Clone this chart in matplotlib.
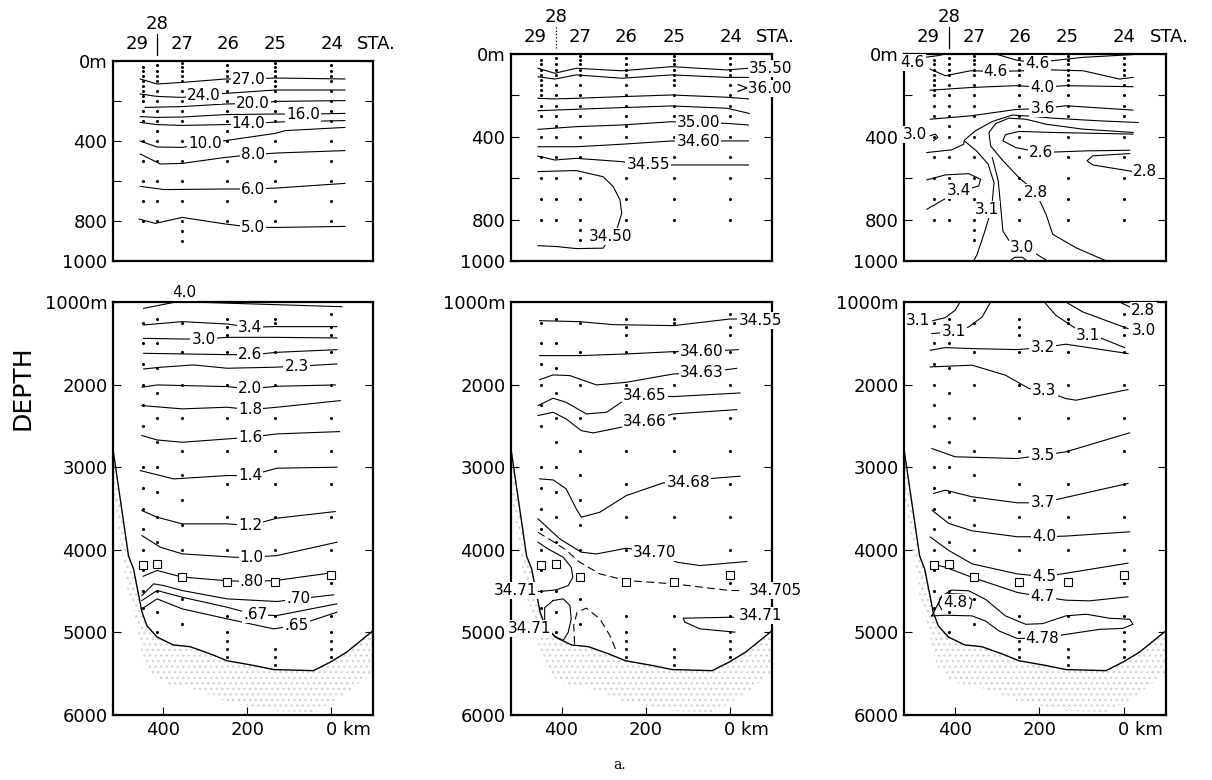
import matplotlib
matplotlib.use("Agg")
import matplotlib.pyplot as plt
import matplotlib.transforms as mtransforms

plt.rcParams["font.family"] = ["DejaVu Sans"]
plt.rcParams["hatch.linewidth"] = 1.0

# ---- stations (km from sta. 24) ----
sta_km = [448, 414, 355, 248, 133, 0]
head_names = ["29", "27", "26", "25", "24", "STA."]
head_km = [462, 355, 246, 133, -2, -108]

# sampling depths per station (29, 28, 27, 26, 25, 24)
shallow_samples = [
    [30, 50, 75, 100, 125, 150, 175, 200, 250, 300, 400, 500, 600, 700, 800, 1000],
    [20, 50, 75, 100, 150, 200, 250, 300, 350, 400, 500, 600, 700, 800, 1000],
    [10, 30, 50, 75, 100, 150, 200, 250, 300, 400, 500, 600, 700, 800, 850, 900, 1000],
    [20, 50, 75, 100, 150, 200, 250, 300, 350, 400, 500, 600, 700, 800],
    [10, 30, 50, 75, 100, 125, 150, 200, 250, 300, 400, 500, 600, 700, 800, 1000],
    [20, 50, 75, 100, 150, 200, 250, 300, 400, 500, 600, 700, 800, 1000],
]
deep_samples = [
    [1250, 1500, 1750, 2000, 2250, 2500, 3000, 3250, 3500, 3750, 4000, 4250, 4500, 4700],
    [1200, 1500, 1800, 2100, 2400, 2700, 3000, 3300, 3600, 3900, 4200, 4500, 4750, 5000],
    [1250, 1600, 2000, 2400, 2800, 3100, 3400, 3700, 4000, 4300, 4600, 4900],
    [1200, 1300, 1400, 1600, 2000, 2400, 2800, 3200, 3600, 4000, 4400, 4800, 5000, 5100, 5200, 5300],
    [1200, 1250, 1600, 2000, 2400, 2800, 3200, 3600, 4000, 4400, 4800, 5200, 5300, 5400],
    [1150, 1300, 1400, 1600, 2000, 2400, 2800, 3200, 3600, 4000, 4400, 4800, 5000, 5100, 5200, 5300],
]
square_m = [4180, 4170, 4330, 4390, 4390, 4300]

# sea floor
bottom_km = [519, 483, 471, 451, 439, 415, 376, 336, 288, 248, 185, 137, 42, 2, -37, -100]
bottom_m = [2816, 4075, 4232, 4753, 4920, 5056, 5152, 5173, 5260, 5343, 5400, 5450, 5463, 5360, 5240, 4980]

# ---- temperature 0-1000 m ----
t_up_270 = ([455, 415, 355, 252, 197, 133, -33], [90, 115, 107, 90, 90, 85, 90])
t_up_240 = ([455, 415, 355, 304, 252, 133, -33], [165, 177, 182, 172, 162, 145, 145])
t_up_200 = ([443, 355, 252, 186, 133, -33], [232, 228, 215, 212, 202, 198])
t_up_160 = ([455, 415, 355, 252, 133, 67, -33], [278, 282, 280, 268, 265, 266, 262])
t_up_140 = ([455, 415, 355, 252, 197, 133, -33], [307, 318, 322, 318, 315, 305, 298])
t_up_100 = ([455, 415, 355, 300, 252, 133, 109, -33], [400, 430, 432, 415, 398, 362, 348, 332])
t_up_80 = ([455, 407, 355, 252, 186, 129, -33], [465, 515, 512, 482, 468, 460, 448])
t_up_60 = ([455, 397, 355, 252, 186, 129, -33], [627, 643, 642, 640, 640, 635, 612])
t_up_50 = ([458, 419, 355, 252, 186, 129, -33], [790, 812, 782, 815, 832, 832, 827])
t_up_text = ["27.0", "24.0", "20.0", "16.0", "14.0", "10.0", "8.0", "6.0", "5.0"]
t_up_text_km = [197, 304, 186, 67, 197, 300, 186, 186, 186]
t_up_text_m = [90, 172, 212, 266, 315, 415, 468, 640, 832]

# ---- salinity 0-1000 m ----
s_up_3550 = ([456, 416, 365, 257, 138, 7, -44], [69, 93, 69, 81, 61, 77, 69])
s_up_b = ([456, 416, 365, 257, 138, 7, -44], [110, 121, 101, 117, 101, 113, 113])
s_up_c = ([456, 416, 365, 257, 138, 7, -44], [214, 217, 214, 206, 198, 209, 217])
s_up_d = ([456, 365, 257, 138, 7, -46], [274, 267, 259, 251, 262, 287])
s_up_3500 = ([456, 365, 257, 138, 75, 7, -44], [364, 351, 343, 327, 333, 335, 343])
s_up_3460 = ([456, 365, 257, 138, 75, 7, -44], [448, 448, 436, 420, 422, 420, 420])
s_up_3455 = ([456, 416, 365, 257, 194, 138, 7, -44], [493, 512, 504, 520, 535, 536, 536, 536])
s_up_3450 = ([456, 365, 301, 277, 261, 257, 269, 283, 301, 365, 413, 456],
             [568, 563, 593, 641, 705, 770, 850, 880, 938, 940, 930, 926])
s_up_text = ["35.00", "34.60", "34.55", "34.50"]
s_up_text_km = [75, 75, 194, 283]
s_up_text_m = [333, 422, 535, 880]
s_up_edge = ["35.50", ">36.00"]
s_up_edge_km = [-46, -12]
s_up_edge_m = [69, 166]

# ---- third property 0-1000 m ----
o_up_46a = ([470, 440, 422], [16, 8, 0])
o_up_46b = ([303, 255, 204, 168, 96, -21], [0, 29, 45, 32, 16, 3])
o_up_46c = ([458, 422, 363, 303, 255, 168, 96, 10, -22], [73, 105, 81, 84, 82, 77, 81, 121, 113])
o_up_40 = ([458, 363, 255, 192, 137, -22], [175, 162, 153, 160, 153, 158])
o_up_36 = ([458, 363, 255, 192, 137, -22], [315, 299, 268, 263, 250, 271])
o_up_x = ([466, 407, 379, 377, 351, 311, 264, 224, 168, 57, -34],
          [476, 463, 436, 416, 371, 326, 295, 300, 310, 323, 331])
o_up_31 = ([375, 347, 321, 307, 311, 319, 331, 347, 355], [423, 471, 532, 621, 710, 790, 871, 968, 1000])
o_up_30 = ([311, 297, 291, 286, 272, 240, 208, 180], [500, 613, 742, 855, 900, 936, 965, 1000])
o_up_28 = ([-22, 97, 184, 232, 272, 303, 319, 315, 287, 252, 208, 184, 168, 113, 41],
           [379, 363, 339, 315, 310, 336, 379, 444, 513, 589, 669, 774, 871, 936, 1000])
o_up_26 = ([-22, 168, 248, 280, 286, 256, 196, 89, -14], [387, 379, 374, 390, 419, 452, 476, 468, 465])
o_up_28b = ([-14, 73, 87, 73, 10, -22], [481, 492, 516, 536, 557, 568])
o_up_34 = ([466, 422, 367, 339, 343, 363, 391, 418, 466], [608, 584, 578, 605, 637, 650, 658, 694, 750])
o_up_hook = ([458, 446, 440, 450], [395, 387, 403, 419])
o_up_loop = ([270, 258, 240, 228], [1000, 982, 982, 1000])
o_up_text = ["4.6", "4.6", "4.6", "4.0", "3.6", "3.0", "2.6", "2.8", "3.4", "3.1", "2.8", "3.0"]
o_up_text_km = [499, 204, 303, 192, 192, 494, 196, -50, 391, 323, 208, 240]
o_up_text_m = [40, 45, 84, 160, 263, 387, 476, 568, 658, 750, 669, 936]

# ---- temperature 1000-6000 m ----
t_dn_40 = ([447, 375, 304, -26], [1077, 1005, 1005, 1057])
t_dn_34 = ([447, 355, 248, 193, 137, -14], [1278, 1238, 1266, 1306, 1298, 1298])
t_dn_30 = ([447, 355, 304, 248, 137, -14], [1440, 1448, 1448, 1428, 1428, 1435])
t_dn_26 = ([447, 355, 248, 193, 129, -14], [1621, 1629, 1637, 1641, 1609, 1577])
t_dn_23 = ([447, 407, 328, 248, 137, 82, -14], [1811, 1790, 1762, 1802, 1790, 1778, 1750])
t_dn_20 = ([451, 415, 248, 193, 129, -10], [2032, 2004, 2024, 2052, 2020, 2004])
t_dn_18 = ([451, 355, 248, 193, 129, -22], [2254, 2294, 2274, 2303, 2274, 2194])
t_dn_16 = ([451, 415, 355, 248, 193, 129, -20], [2617, 2670, 2698, 2658, 2637, 2597, 2569])
t_dn_14 = ([455, 375, 248, 193, 129, -14], [3041, 3142, 3101, 3101, 3012, 3000])
t_dn_12 = ([451, 415, 355, 248, 193, 129, -10], [3525, 3605, 3686, 3686, 3706, 3617, 3537])
t_dn_10 = ([451, 407, 355, 232, 189, 129, -14], [3828, 3969, 4049, 4090, 4090, 4070, 3908])
t_dn_080 = ([448, 415, 355, 248, 189, 129, -6], [4320, 4250, 4330, 4375, 4384, 4370, 4275])
t_dn_070 = ([451, 423, 399, 355, 248, 129, 78, -6], [4554, 4412, 4433, 4493, 4594, 4626, 4594, 4545])
t_dn_067 = ([451, 415, 355, 248, 181, 129, -14], [4614, 4493, 4574, 4695, 4787, 4796, 4654])
t_dn_065 = ([451, 415, 355, 248, 137, 82, -14], [4715, 4594, 4715, 4836, 4957, 4917, 4755])
t_dn_text = ["4.0", "3.4", "3.0", "2.6", "2.3", "2.0", "1.8", "1.6", "1.4", "1.2", "1.0",
             ".80", ".70", ".67", ".65"]
t_dn_text_km = [351, 193, 304, 193, 82, 193, 193, 193, 193, 193, 189, 189, 78, 181, 82]
t_dn_text_m = [883, 1306, 1448, 1641, 1778, 2052, 2303, 2637, 3101, 3706, 4090, 4384, 4594, 4787, 4917]

# ---- salinity 1000-6000 m ----
s_dn_3455 = ([452, 357, 277, 134, 0, -16], [1226, 1238, 1274, 1286, 1206, 1206])
s_dn_3460 = ([452, 357, 246, 134, 67, -20], [1649, 1649, 1629, 1601, 1601, 1577])
s_dn_3463 = ([452, 420, 380, 317, 246, 134, 67, -16], [1940, 1883, 1891, 2004, 1972, 1871, 1859, 1803])
s_dn_3465 = ([456, 420, 389, 341, 293, 258, 202, 134, -24],
             [2254, 2165, 2214, 2355, 2335, 2214, 2133, 2145, 2101])
s_dn_3466 = ([456, 420, 389, 353, 325, 258, 202, 134, -16],
             [2375, 2335, 2416, 2557, 2585, 2516, 2448, 2355, 2303])
s_dn_3468 = ([452, 420, 389, 365, 353, 309, 246, 158, 99, 39, -24],
             [3141, 3154, 3262, 3504, 3605, 3545, 3343, 3190, 3182, 3134, 3109])
s_dn_3470 = ([456, 404, 353, 317, 246, 178, 126, 71, -40],
             [3625, 3868, 4029, 4050, 3981, 4029, 4150, 4191, 4142])
s_dn_3471a = ([456, 432, 396, 377, 373, 384, 412, 452, 490],
              [3908, 3989, 4090, 4211, 4332, 4433, 4485, 4505, 4500])
s_dn_oval = ([420, 396, 380, 377, 384, 396, 418, 440, 440, 420],
             [4614, 4594, 4675, 4836, 4997, 5098, 5040, 4900, 4700, 4614])
s_dn_3471b = ([-8, 111, 107, 71, -12], [4816, 4828, 4876, 4957, 4997])
s_dn_34705 = ([456, 420, 390, 357, 309, 246, 134, 0, -32],
              [3787, 3900, 4000, 4150, 4291, 4372, 4412, 4493, 4493])
s_dn_arc = ([369, 371, 363, 341, 309, 285, 269], [5138, 4917, 4755, 4707, 4836, 5038, 5239])
s_dn_text = ["34.60", "34.63", "34.65", "34.66", "34.68", "34.70", "34.71", "34.71"]
s_dn_text_km = [67, 67, 202, 202, 99, 178, 509, 476]
s_dn_text_m = [1601, 1859, 2133, 2448, 3182, 4029, 4493, 4957]
s_dn_edge = ["34.55", "34.705", "34.71"]
s_dn_edge_km = [-20, -44, -20]
s_dn_edge_m = [1226, 4493, 4800]

# ---- third property 1000-6000 m ----
o_dn_31a = ([454, 422, 399, 387], [1229, 1189, 1100, 1000])
o_dn_31b = ([454, 403, 367, 335, 315], [1382, 1362, 1302, 1181, 1000])
o_dn_31c = ([188, 161, 113, 85, 57, -2], [1000, 1160, 1322, 1402, 1431, 1552])
o_dn_30 = ([137, 97, 33, -10], [1000, 1120, 1241, 1322])
o_dn_28 = ([10, -14], [1000, 1060])
o_dn_32 = ([458, 422, 359, 252, 192, 137, -10], [1584, 1552, 1564, 1576, 1552, 1511, 1624])
o_dn_33 = ([458, 359, 280, 224, 188, 137, 113, -10], [1786, 1765, 1886, 2048, 2076, 2169, 2189, 2060])
o_dn_35 = ([454, 399, 252, 192, 137, -14], [2774, 2874, 2895, 2854, 2814, 2584])
o_dn_37 = ([450, 422, 359, 252, 192, 137, -10], [3318, 3278, 3358, 3431, 3431, 3366, 3197])
o_dn_40 = ([454, 414, 359, 252, 188, 137, -14], [3520, 3681, 3770, 3842, 3842, 3834, 3782])
o_dn_45 = ([458, 414, 359, 252, 188, 137, -10], [3845, 4008, 4170, 4292, 4325, 4284, 4162])
o_dn_47 = ([454, 422, 359, 252, 192, 137, 81, -10], [4170, 4211, 4333, 4516, 4569, 4610, 4618, 4569])
o_dn_478 = ([454, 430, 407, 367, 327, 280, 232, 192, 137, 89, 33, -14, -22, 2, 57, 137,
             192, 252, 295, 327, 359, 422, 454],
            [4800, 4557, 4488, 4496, 4600, 4800, 4902, 4894, 4800, 4780, 4829, 4841, 4902, 4951,
             4963, 5024, 5073, 5073, 4983, 4862, 4800, 4792, 4800])
o_dn_48 = ([434, 414, 375, 359, 363, 399, 430, 438, 434], [4580, 4530, 4540, 4605, 4707, 4731, 4731, 4658, 4580])
o_dn_text = ["3.1", "3.1", "3.1", "3.2", "3.3", "3.5", "3.7", "4.0", "4.5", "4.7", "4.78", "4.8"]
o_dn_text_km = [486, 403, 85, 192, 188, 192, 192, 188, 188, 192, 192, 398]
o_dn_text_m = [1221, 1362, 1402, 1552, 2076, 2854, 3431, 3842, 4325, 4569, 5073, 4640]
o_dn_edge = ["2.8", "3.0"]
o_dn_edge_km = [-18, -18]
o_dn_edge_m = [1108, 1342]

# ---------------------------------------------------------------------
W, H = 1212, 780
fig = plt.figure(figsize=(W / 100, H / 100), dpi=100)


def add_ax(left, right, top, bottom):
    return fig.add_axes([left / W, 1 - bottom / H, (right - left) / W, (bottom - top) / H])


def style(ax, deep):
    ax.set_xlim(520, -100)
    for sp in ax.spines.values():
        sp.set_linewidth(1.6)
    ax.tick_params(direction="in", length=6, width=0.8, left=True, right=True,
                   labelsize=13, pad=4)
    if deep:
        ax.set_ylim(6000, 1000)
        ax.set_yticks([1000, 2000, 3000, 4000, 5000, 6000],
                      ["1000m", "2000", "3000", "4000", "5000", "6000"])
        ax.set_xticks([400, 200, 0], ["400", "200", ""])
        tr = mtransforms.blended_transform_factory(ax.transData, ax.transAxes)
        ax.text(13, -0.036, "0 km", transform=tr, ha="left", va="center", fontsize=13)
    else:
        ax.set_ylim(1000, 0)
        ax.set_yticks([0, 200, 400, 600, 800, 1000], ["0m", "", "400", "", "800", "1000"])
        ax.set_xticks([])


def samples(ax, deep):
    lists = deep_samples if deep else shallow_samples
    for km, ds in zip(sta_km, lists):
        ax.plot([km] * len(ds), ds, ls="none", marker="o", ms=1.2, color="k", zorder=3)
    if deep:
        ax.plot(sta_km, square_m, ls="none", marker="s", ms=6, mfc="white", mec="k",
                mew=0.8, zorder=6)
        ax.fill_between(bottom_km, bottom_m, [m + 500 for m in bottom_m], facecolor="none",
                        edgecolor="#d2d2d2", hatch="...", lw=0, zorder=1)
        ax.plot(bottom_km, bottom_m, color="k", lw=1.0, zorder=4)


def contours(ax, lines, text, tkm, tm, dashed=(), edge=(), ekm=(), em=()):
    for km, m in lines:
        ax.plot(km, m, color="k", lw=0.8, zorder=2)
    for km, m in dashed:
        ax.plot(km, m, color="k", lw=0.8, ls=(0, (7, 4)), zorder=2)
    box = dict(fc="white", ec="none", pad=0.8)
    for s, x, y in zip(text, tkm, tm):
        ax.text(x, y, s, ha="center", va="center", fontsize=11, bbox=box, zorder=5)
    for s, x, y in zip(edge, ekm, em):
        ax.text(x, y, s, ha="left", va="center", fontsize=11, bbox=box, zorder=5)


def header(ax, dotted):
    tr = mtransforms.blended_transform_factory(ax.transData, ax.transAxes)
    h = ax.get_position().height * H
    for name, km in zip(head_names, head_km):
        ax.text(km, 1 + 17 / h, name, transform=tr, ha="center", va="center", fontsize=13)
    ax.text(sta_km[1], 1 + 37 / h, "28", transform=tr, ha="center", va="center", fontsize=13)
    ax.plot([sta_km[1], sta_km[1]], [1 + 6 / h, 1 + 27 / h], transform=tr, clip_on=False,
            color="k", lw=0.9, ls=":" if dotted else "-")


cols = [(113, 373), (511, 772), (904, 1166)]
tops = [61, 54, 54]
up_axes = [add_ax(l, r, t, 261) for (l, r), t in zip(cols, tops)]
dn_axes = [add_ax(l, r, 302, 715) for (l, r) in cols]

for i, ax in enumerate(up_axes):
    style(ax, False)
    samples(ax, False)
    header(ax, i == 1)
for ax in dn_axes:
    style(ax, True)
    samples(ax, True)

contours(up_axes[0], [t_up_270, t_up_240, t_up_200, t_up_160, t_up_140, t_up_100, t_up_80,
                      t_up_60, t_up_50], t_up_text, t_up_text_km, t_up_text_m)
contours(up_axes[1], [s_up_3550, s_up_b, s_up_c, s_up_d, s_up_3500, s_up_3460, s_up_3455,
                      s_up_3450], s_up_text, s_up_text_km, s_up_text_m,
         edge=s_up_edge, ekm=s_up_edge_km, em=s_up_edge_m)
contours(up_axes[2], [o_up_46a, o_up_46b, o_up_46c, o_up_40, o_up_36, o_up_x, o_up_31, o_up_30,
                      o_up_28, o_up_26, o_up_28b, o_up_34, o_up_hook, o_up_loop],
         o_up_text, o_up_text_km, o_up_text_m)

contours(dn_axes[0], [t_dn_40, t_dn_34, t_dn_30, t_dn_26, t_dn_23, t_dn_20, t_dn_18, t_dn_16,
                      t_dn_14, t_dn_12, t_dn_10, t_dn_080, t_dn_070, t_dn_067, t_dn_065],
         t_dn_text, t_dn_text_km, t_dn_text_m)
contours(dn_axes[1], [s_dn_3455, s_dn_3460, s_dn_3463, s_dn_3465, s_dn_3466, s_dn_3468,
                      s_dn_3470, s_dn_3471a, s_dn_oval, s_dn_3471b],
         s_dn_text, s_dn_text_km, s_dn_text_m, dashed=[s_dn_34705, s_dn_arc],
         edge=s_dn_edge, ekm=s_dn_edge_km, em=s_dn_edge_m)
contours(dn_axes[2], [o_dn_31a, o_dn_31b, o_dn_31c, o_dn_30, o_dn_28, o_dn_32, o_dn_33, o_dn_35,
                      o_dn_37, o_dn_40, o_dn_45, o_dn_47, o_dn_478, o_dn_48],
         o_dn_text, o_dn_text_km, o_dn_text_m,
         edge=o_dn_edge, ekm=o_dn_edge_km, em=o_dn_edge_m)

fig.text(22 / W, 1 - 388 / H, "DEPTH", rotation=90, ha="center", va="center", fontsize=18)
fig.text(620 / W, 1 - 765 / H, "a.", ha="center", va="center", fontsize=10,
         family="DejaVu Serif")

fig.savefig("out.png", dpi=100)
